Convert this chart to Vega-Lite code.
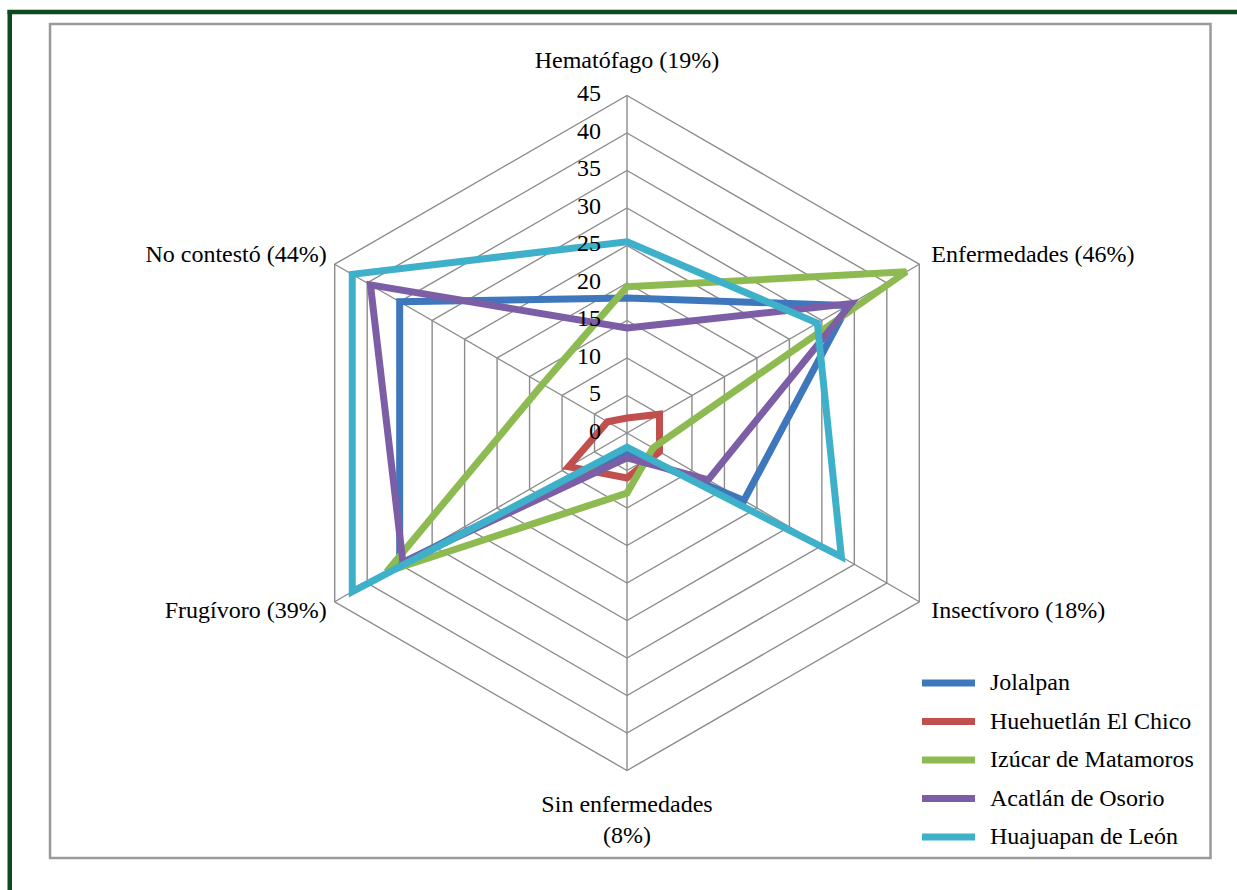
{
  "$schema": "https://vega.github.io/schema/vega-lite/v6.json",
  "width": 1237,
  "height": 890,
  "autosize": {"type": "none"},
  "padding": 0,
  "background": "white",
  "config": {"view": {"stroke": null}, "font": "Liberation Serif", "text": {"font": "Liberation Serif", "fontSize": 24, "color": "black"}},
  "datasets": {
    "puntajes": [
      {"municipio": "Jolalpan", "categoria": "Hematófago", "valor": 18},
      {"municipio": "Jolalpan", "categoria": "Enfermedades", "valor": 34},
      {"municipio": "Jolalpan", "categoria": "Insectívoro", "valor": 18},
      {"municipio": "Jolalpan", "categoria": "Sin enfermedades", "valor": 2.5},
      {"municipio": "Jolalpan", "categoria": "Frugívoro", "valor": 35},
      {"municipio": "Jolalpan", "categoria": "No contestó", "valor": 35},
      {"municipio": "Huehuetlán El Chico", "categoria": "Hematófago", "valor": 2},
      {"municipio": "Huehuetlán El Chico", "categoria": "Enfermedades", "valor": 5},
      {"municipio": "Huehuetlán El Chico", "categoria": "Insectívoro", "valor": 5},
      {"municipio": "Huehuetlán El Chico", "categoria": "Sin enfermedades", "valor": 6},
      {"municipio": "Huehuetlán El Chico", "categoria": "Frugívoro", "valor": 9},
      {"municipio": "Huehuetlán El Chico", "categoria": "No contestó", "valor": 3},
      {"municipio": "Izúcar de Matamoros", "categoria": "Hematófago", "valor": 19.5},
      {"municipio": "Izúcar de Matamoros", "categoria": "Enfermedades", "valor": 43},
      {"municipio": "Izúcar de Matamoros", "categoria": "Insectívoro", "valor": 4},
      {"municipio": "Izúcar de Matamoros", "categoria": "Sin enfermedades", "valor": 8},
      {"municipio": "Izúcar de Matamoros", "categoria": "Frugívoro", "valor": 37},
      {"municipio": "Izúcar de Matamoros", "categoria": "No contestó", "valor": 13},
      {"municipio": "Acatlán de Osorio", "categoria": "Hematófago", "valor": 14},
      {"municipio": "Acatlán de Osorio", "categoria": "Enfermedades", "valor": 34.5},
      {"municipio": "Acatlán de Osorio", "categoria": "Insectívoro", "valor": 12.5},
      {"municipio": "Acatlán de Osorio", "categoria": "Sin enfermedades", "valor": 3.3},
      {"municipio": "Acatlán de Osorio", "categoria": "Frugívoro", "valor": 34.5},
      {"municipio": "Acatlán de Osorio", "categoria": "No contestó", "valor": 39.5},
      {"municipio": "Huajuapan de León", "categoria": "Hematófago", "valor": 25.5},
      {"municipio": "Huajuapan de León", "categoria": "Enfermedades", "valor": 29.3},
      {"municipio": "Huajuapan de León", "categoria": "Insectívoro", "valor": 33},
      {"municipio": "Huajuapan de León", "categoria": "Sin enfermedades", "valor": 1.9},
      {"municipio": "Huajuapan de León", "categoria": "Frugívoro", "valor": 42.3},
      {"municipio": "Huajuapan de León", "categoria": "No contestó", "valor": 42.3}
    ],
    "ejes": [
      {"categoria": "Hematófago", "etiqueta": "Hematófago (19%)"},
      {"categoria": "Enfermedades", "etiqueta": "Enfermedades (46%)"},
      {"categoria": "Insectívoro", "etiqueta": "Insectívoro (18%)"},
      {"categoria": "Sin enfermedades", "etiqueta": "Sin enfermedades\n(8%)"},
      {"categoria": "Frugívoro", "etiqueta": "Frugívoro (39%)"},
      {"categoria": "No contestó", "etiqueta": "No contestó (44%)"}
    ],
    "niveles": [
      {"nivel": 0}, {"nivel": 5}, {"nivel": 10}, {"nivel": 15}, {"nivel": 20},
      {"nivel": 25}, {"nivel": 30}, {"nivel": 35}, {"nivel": 40}, {"nivel": 45}
    ]
  },
  "layer": [
    {
      "data": {"values": [{"marco": "gris"}]},
      "transform": [
        {"calculate": "-76.93", "as": "px"}, {"calculate": "77.8", "as": "px2"},
        {"calculate": "54.53", "as": "py"}, {"calculate": "-56.67", "as": "py2"}
      ],
      "mark": {"type": "rect", "filled": false, "stroke": "#9a9a9a", "strokeWidth": 2.5},
      "encoding": {
        "x": {"field": "px", "type": "quantitative", "scale": {"domain": [-83.6, 81.3333], "nice": false, "zero": false}, "axis": null},
        "x2": {"field": "px2"},
        "y": {"field": "py", "type": "quantitative", "scale": {"domain": [-60.9333, 57.7333], "nice": false, "zero": false}, "axis": null},
        "y2": {"field": "py2"}
      }
    },
    {
      "data": {"values": [{"borde": "superior"}]},
      "transform": [
        {"calculate": "-82.6", "as": "px"}, {"calculate": "81.3333", "as": "px2"},
        {"calculate": "56.13", "as": "py"}, {"calculate": "56.13", "as": "py2"}
      ],
      "mark": {"type": "rule", "stroke": "#0b4a1c", "strokeWidth": 4.5},
      "encoding": {
        "x": {"field": "px", "type": "quantitative", "scale": {"domain": [-83.6, 81.3333], "nice": false, "zero": false}, "axis": null},
        "x2": {"field": "px2"},
        "y": {"field": "py", "type": "quantitative", "scale": {"domain": [-60.9333, 57.7333], "nice": false, "zero": false}, "axis": null},
        "y2": {"field": "py2"}
      }
    },
    {
      "data": {"values": [{"borde": "izquierdo"}]},
      "transform": [
        {"calculate": "-82.3", "as": "px"}, {"calculate": "-82.3", "as": "px2"},
        {"calculate": "56.4", "as": "py"}, {"calculate": "-60.9333", "as": "py2"}
      ],
      "mark": {"type": "rule", "stroke": "#0b4a1c", "strokeWidth": 4.5},
      "encoding": {
        "x": {"field": "px", "type": "quantitative", "scale": {"domain": [-83.6, 81.3333], "nice": false, "zero": false}, "axis": null},
        "x2": {"field": "px2"},
        "y": {"field": "py", "type": "quantitative", "scale": {"domain": [-60.9333, 57.7333], "nice": false, "zero": false}, "axis": null},
        "y2": {"field": "py2"}
      }
    },
    {
      "data": {"name": "niveles"},
      "transform": [
        {"filter": "datum.nivel > 0"},
        {"calculate": "[0,1,2,3,4,5]", "as": "k"},
        {"flatten": ["k"]},
        {"calculate": "PI/2 - datum.k*PI/3", "as": "ang"},
        {"calculate": "datum.nivel*cos(datum.ang)", "as": "px"},
        {"calculate": "datum.nivel*sin(datum.ang)", "as": "py"}
      ],
      "mark": {"type": "line", "interpolate": "linear-closed", "color": "#8c8c8c", "strokeWidth": 1.4},
      "encoding": {
        "x": {"field": "px", "type": "quantitative", "scale": {"domain": [-83.6, 81.3333], "nice": false, "zero": false}, "axis": null},
        "y": {"field": "py", "type": "quantitative", "scale": {"domain": [-60.9333, 57.7333], "nice": false, "zero": false}, "axis": null},
        "detail": {"field": "nivel", "type": "nominal"},
        "order": {"field": "k", "type": "quantitative"}
      }
    },
    {
      "data": {"name": "ejes"},
      "transform": [
        {"calculate": "indexof(['Hematófago','Enfermedades','Insectívoro','Sin enfermedades','Frugívoro','No contestó'], datum.categoria)", "as": "k"},
        {"calculate": "PI/2 - datum.k*PI/3", "as": "ang"},
        {"calculate": "0", "as": "px"},
        {"calculate": "0", "as": "py"},
        {"calculate": "45*cos(datum.ang)", "as": "px2"},
        {"calculate": "45*sin(datum.ang)", "as": "py2"}
      ],
      "mark": {"type": "rule", "color": "#8c8c8c", "strokeWidth": 1.4},
      "encoding": {
        "x": {"field": "px", "type": "quantitative", "scale": {"domain": [-83.6, 81.3333], "nice": false, "zero": false}, "axis": null},
        "y": {"field": "py", "type": "quantitative", "scale": {"domain": [-60.9333, 57.7333], "nice": false, "zero": false}, "axis": null},
        "x2": {"field": "px2"},
        "y2": {"field": "py2"}
      }
    },
    {
      "data": {"name": "puntajes"},
      "transform": [
        {"calculate": "indexof(['Hematófago','Enfermedades','Insectívoro','Sin enfermedades','Frugívoro','No contestó'], datum.categoria)", "as": "k"},
        {"calculate": "PI/2 - datum.k*PI/3", "as": "ang"},
        {"calculate": "datum.valor*cos(datum.ang)", "as": "px"},
        {"calculate": "datum.valor*sin(datum.ang)", "as": "py"}
      ],
      "mark": {"type": "line", "interpolate": "linear-closed", "strokeWidth": 7, "strokeJoin": "miter", "strokeMiterLimit": 3},
      "encoding": {
        "x": {"field": "px", "type": "quantitative", "scale": {"domain": [-83.6, 81.3333], "nice": false, "zero": false}, "axis": null},
        "y": {"field": "py", "type": "quantitative", "scale": {"domain": [-60.9333, 57.7333], "nice": false, "zero": false}, "axis": null},
        "color": {
          "field": "municipio", "type": "nominal",
          "scale": {
            "domain": ["Jolalpan", "Huehuetlán El Chico", "Izúcar de Matamoros", "Acatlán de Osorio", "Huajuapan de León"],
            "range": ["#3f77bc", "#c0504d", "#8dbb52", "#7b5ea6", "#3eb0c9"]
          },
          "legend": {
            "title": null, "orient": "none", "legendX": 922, "legendY": 668.5,
            "symbolType": "M-2.5,0H2.5", "symbolSize": 450, "symbolStrokeWidth": 7,
            "symbolOffset": 12, "labelOffset": 27, "rowPadding": 9.5, "padding": 0,
            "labelFont": "Liberation Serif", "labelFontSize": 24, "labelColor": "black", "labelLimit": 400
          }
        },
        "order": {"field": "k", "type": "quantitative"}
      }
    },
    {
      "data": {"name": "niveles"},
      "transform": [{"calculate": "0", "as": "px"}],
      "mark": {"type": "text", "align": "right", "baseline": "middle", "dx": -26, "dy": -1},
      "encoding": {
        "x": {"field": "px", "type": "quantitative", "scale": {"domain": [-83.6, 81.3333], "nice": false, "zero": false}, "axis": null},
        "y": {"field": "nivel", "type": "quantitative", "scale": {"domain": [-60.9333, 57.7333], "nice": false, "zero": false}, "axis": null},
        "text": {"field": "nivel", "type": "quantitative"}
      }
    },
    {
      "data": {"name": "ejes"},
      "transform": [
        {"calculate": "indexof(['Hematófago','Enfermedades','Insectívoro','Sin enfermedades','Frugívoro','No contestó'], datum.categoria)", "as": "k"},
        {"filter": "datum.k == 0"},
        {"calculate": "0", "as": "px"},
        {"calculate": "45", "as": "py"}
      ],
      "mark": {"type": "text", "align": "center", "baseline": "alphabetic", "dy": -27.5},
      "encoding": {
        "x": {"field": "px", "type": "quantitative", "scale": {"domain": [-83.6, 81.3333], "nice": false, "zero": false}, "axis": null},
        "y": {"field": "py", "type": "quantitative", "scale": {"domain": [-60.9333, 57.7333], "nice": false, "zero": false}, "axis": null},
        "text": {"field": "etiqueta", "type": "nominal"}
      }
    },
    {
      "data": {"name": "ejes"},
      "transform": [
        {"calculate": "indexof(['Hematófago','Enfermedades','Insectívoro','Sin enfermedades','Frugívoro','No contestó'], datum.categoria)", "as": "k"},
        {"filter": "datum.k == 3"},
        {"calculate": "0", "as": "px"},
        {"calculate": "-45", "as": "py"}
      ],
      "mark": {"type": "text", "align": "center", "baseline": "top", "dy": 22.5, "lineBreak": "\n", "lineHeight": 31},
      "encoding": {
        "x": {"field": "px", "type": "quantitative", "scale": {"domain": [-83.6, 81.3333], "nice": false, "zero": false}, "axis": null},
        "y": {"field": "py", "type": "quantitative", "scale": {"domain": [-60.9333, 57.7333], "nice": false, "zero": false}, "axis": null},
        "text": {"field": "etiqueta", "type": "nominal"}
      }
    },
    {
      "data": {"name": "ejes"},
      "transform": [
        {"calculate": "indexof(['Hematófago','Enfermedades','Insectívoro','Sin enfermedades','Frugívoro','No contestó'], datum.categoria)", "as": "k"},
        {"filter": "datum.k == 1 || datum.k == 2"},
        {"calculate": "PI/2 - datum.k*PI/3", "as": "ang"},
        {"calculate": "45*cos(datum.ang)", "as": "px"},
        {"calculate": "47.5*sin(datum.ang)", "as": "py"}
      ],
      "mark": {"type": "text", "align": "left", "baseline": "middle", "dx": 12},
      "encoding": {
        "x": {"field": "px", "type": "quantitative", "scale": {"domain": [-83.6, 81.3333], "nice": false, "zero": false}, "axis": null},
        "y": {"field": "py", "type": "quantitative", "scale": {"domain": [-60.9333, 57.7333], "nice": false, "zero": false}, "axis": null},
        "text": {"field": "etiqueta", "type": "nominal"}
      }
    },
    {
      "data": {"name": "ejes"},
      "transform": [
        {"calculate": "indexof(['Hematófago','Enfermedades','Insectívoro','Sin enfermedades','Frugívoro','No contestó'], datum.categoria)", "as": "k"},
        {"filter": "datum.k == 4 || datum.k == 5"},
        {"calculate": "PI/2 - datum.k*PI/3", "as": "ang"},
        {"calculate": "45*cos(datum.ang)", "as": "px"},
        {"calculate": "47.5*sin(datum.ang)", "as": "py"}
      ],
      "mark": {"type": "text", "align": "right", "baseline": "middle", "dx": -8},
      "encoding": {
        "x": {"field": "px", "type": "quantitative", "scale": {"domain": [-83.6, 81.3333], "nice": false, "zero": false}, "axis": null},
        "y": {"field": "py", "type": "quantitative", "scale": {"domain": [-60.9333, 57.7333], "nice": false, "zero": false}, "axis": null},
        "text": {"field": "etiqueta", "type": "nominal"}
      }
    }
  ]
}
